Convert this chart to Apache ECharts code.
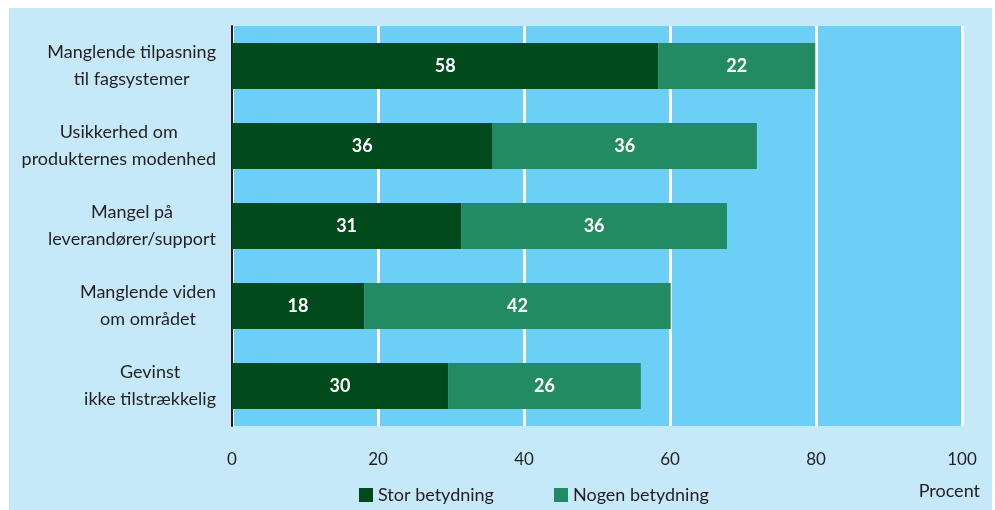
<!DOCTYPE html>
<html><head><meta charset="utf-8">
<script src="https://cdn.jsdelivr.net/npm/echarts@6/dist/echarts.min.js"></script>
<style>html,body{margin:0;padding:0;background:#fff}#c{width:995px;height:510px}</style>
</head><body><div id="c"></div>
<script>
const categories = [
  ['Manglende tilpasning', 'til fagsystemer'],
  ['Usikkerhed om', 'produkternes modenhed'],
  ['Mangel på', 'leverandører/support'],
  ['Manglende viden', 'om området'],
  ['Gevinst', 'ikke tilstrækkelig']
];
const storValues = [58.4, 35.7, 31.4, 18.1, 29.6];
const nogenValues = [21.5, 36.2, 36.4, 42.0, 26.4];
const seriesNames = ['Stor betydning', 'Nogen betydning'];
const xTicks = [0, 20, 40, 60, 80, 100];
const unitLabel = 'Procent';

const FONT = 'Lato';
const chart = echarts.init(document.getElementById('c'));
const labelStyle = {
  show: true, position: 'inside', color: '#fff', fontFamily: FONT, fontWeight: 'bold', fontSize: 18,
  formatter: p => Math.round(p.value)
};
chart.setOption({
  animation: false,
  textStyle: { fontFamily: FONT },
  graphic: [
    { type: 'rect', z: -10, silent: true, shape: { x: 9, y: 8, width: 983, height: 502 }, style: { fill: '#c6e9f9' } },
    { type: 'text', right: 15, top: 482, style: { text: unitLabel, fill: '#231f20', font: '18px ' + FONT } }
  ],
  grid: { left: 232, top: 26, width: 730, height: 400, show: true, backgroundColor: '#6ccff5', borderWidth: 0 },
  legend: [
    { data: [seriesNames[0]], left: 354, top: 481, itemWidth: 14, itemHeight: 14, icon: 'rect',
      textStyle: { fontFamily: FONT, fontSize: 18, color: '#231f20' }, itemGap: 0 },
    { data: [seriesNames[1]], left: 549, top: 481, itemWidth: 14, itemHeight: 14, icon: 'rect',
      textStyle: { fontFamily: FONT, fontSize: 18, color: '#231f20' }, itemGap: 0 }
  ],
  xAxis: {
    type: 'value', min: 0, max: 100, interval: 20,
    axisLine: { show: false }, axisTick: { show: false },
    splitLine: { show: true, lineStyle: { color: '#ffffff', width: 3 } },
    axisLabel: { margin: 25, fontSize: 17, color: '#231f20', fontFamily: FONT,
      formatter: v => xTicks.includes(v) ? String(v) : '' }
  },
  yAxis: {
    type: 'category', inverse: true, data: categories.map(c => c.join('\n')),
    axisLine: { show: true, lineStyle: { color: '#231f20', width: 2 } },
    axisTick: { show: false },
    axisLabel: {
      margin: 16, align: 'right', fontSize: 18, color: '#231f20', fontFamily: FONT, lineHeight: 27,
      formatter: v => v.split('\n').map(s => '{c|' + s + '}').join('\n'),
      rich: { c: { align: 'center', fontSize: 18, color: '#231f20', fontFamily: FONT, lineHeight: 27 } }
    }
  },
  series: [
    { name: seriesNames[0], type: 'bar', stack: 's', data: storValues, barWidth: 46,
      itemStyle: { color: '#004a1c' }, label: labelStyle },
    { name: seriesNames[1], type: 'bar', stack: 's', data: nogenValues, barWidth: 46,
      itemStyle: { color: '#238b63' }, label: labelStyle }
  ]
});
</script></body></html>
